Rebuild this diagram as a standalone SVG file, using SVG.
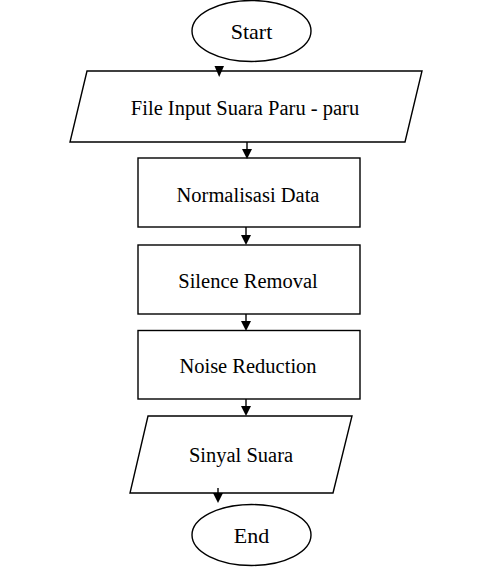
<svg xmlns="http://www.w3.org/2000/svg" width="502" height="567" viewBox="0 0 502 567">
<defs>
<style>
.s{fill:#fff;stroke:#000;stroke-width:1.4}
.t{font-family:"Liberation Serif","Times New Roman",serif;font-size:20.5px;fill:#000;text-anchor:middle}
.tt{font-family:"Liberation Serif","Times New Roman",serif;font-size:22px;fill:#000;text-anchor:middle}
.c{stroke:#000;stroke-width:1.4;fill:none}
.h{fill:#000}
</style>
</defs>
<rect width="502" height="567" fill="#fff"/>
<g id="start"><ellipse class="s" cx="251.5" cy="31" rx="59.5" ry="30.5"/><text class="tt" x="251.5" y="38.5">Start</text></g>
<g id="input"><polygon class="s" points="87,71 422,71 405,142 70,142"/><text class="t" x="245" y="115">File Input Suara Paru - paru</text></g>
<g id="normalisasi"><rect class="s" x="138" y="158" width="222" height="69"/><text class="t" x="248" y="201.5">Normalisasi Data</text></g>
<g id="silence"><rect class="s" x="138" y="245" width="222" height="69"/><text class="t" x="248" y="288">Silence Removal</text></g>
<g id="noise"><rect class="s" x="138" y="330.5" width="222" height="68.5"/><text class="t" x="248" y="372.5">Noise Reduction</text></g>
<g id="sinyal"><polygon class="s" points="148,416 352,416 333,493 130,493"/><text class="t" x="241" y="461.5">Sinyal Suara</text></g>
<g id="end"><ellipse class="s" cx="251.5" cy="535" rx="59.5" ry="30.5"/><text class="tt" x="251.5" y="543">End</text></g>
<g id="connectors">
<path class="h" d="M214.5,66 L224,66 L219.2,77 Z"/>
<line class="c" x1="247" y1="142" x2="247" y2="150"/><path class="h" d="M242,149 L252,149 L247,159 Z"/>
<line class="c" x1="246" y1="227" x2="246" y2="236"/><path class="h" d="M241,235 L251,235 L246,245 Z"/>
<line class="c" x1="246" y1="314" x2="246" y2="322"/><path class="h" d="M241,321 L251,321 L246,331 Z"/>
<line class="c" x1="246" y1="399" x2="246" y2="407"/><path class="h" d="M241,406 L251,406 L246,416 Z"/>
<line class="c" x1="218" y1="488" x2="218" y2="494"/><path class="h" d="M213,493 L223,493 L218,503 Z"/>
</g>
</svg>
